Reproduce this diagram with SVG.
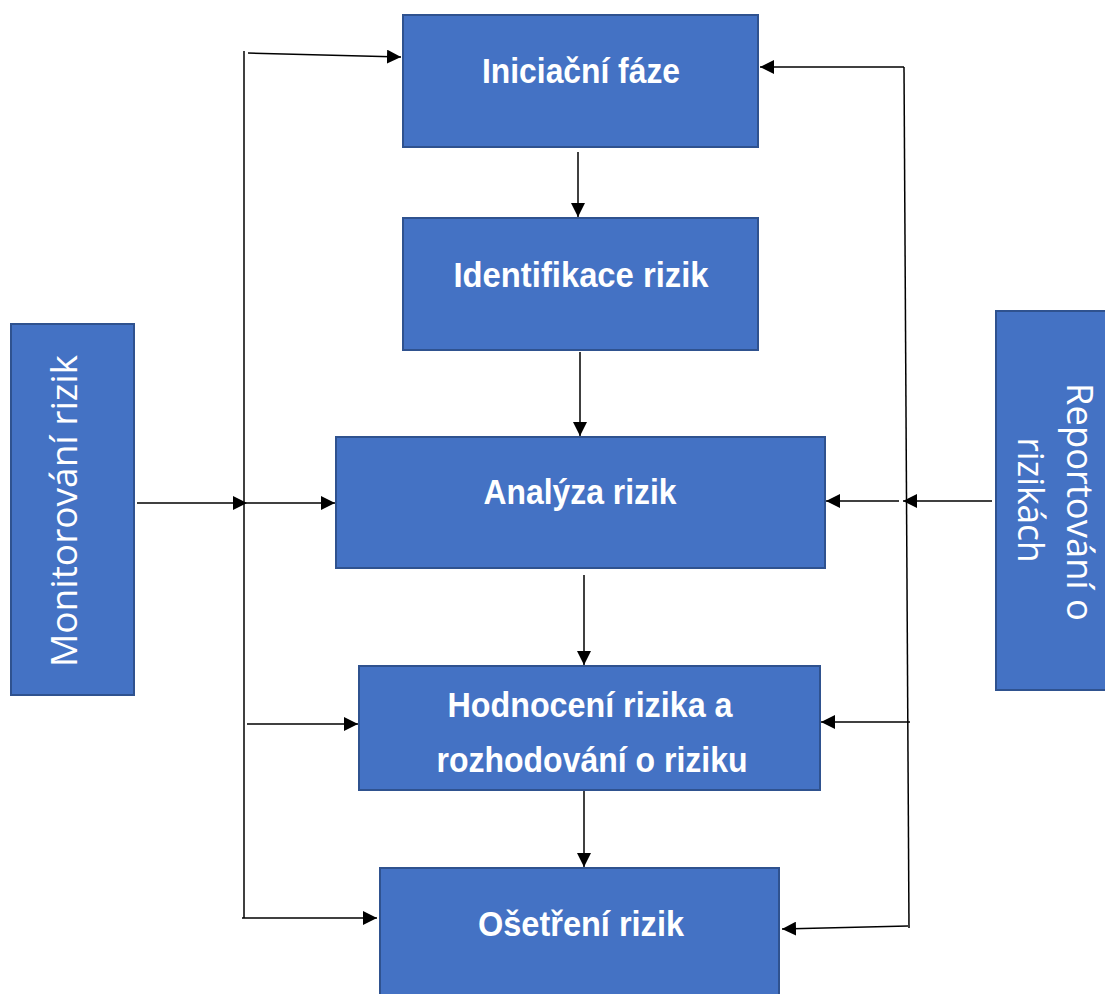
<svg xmlns="http://www.w3.org/2000/svg" width="1105" height="994" viewBox="0 0 1105 994">
  <style>
    .box { fill: #4472C4; stroke: #2F528F; stroke-width: 2; }
    .lbl { font-family: "Liberation Sans", Arial, sans-serif; font-weight: bold; font-size: 35px; fill: #ffffff; text-anchor: middle; }
    .side { font-family: "Open Sans", "Liberation Sans", sans-serif; font-size: 36px; fill: #ffffff; text-anchor: middle; }
    .con { stroke: #000000; stroke-width: 1.5; fill: none; }
    .arr { marker-end: url(#ah); }
  </style>
  <defs>
    <marker id="ah" markerWidth="14" markerHeight="14" refX="14" refY="7" orient="auto" markerUnits="userSpaceOnUse">
      <path d="M0,0 L14,7 L0,14 z" fill="#000000"/>
    </marker>
  </defs>
  <rect width="1105" height="994" fill="#ffffff"/>

  <g id="connectors">
    <line class="con" x1="244" y1="51" x2="244" y2="918"/>
    <line class="con arr" x1="248" y1="53" x2="401" y2="57"/>
    <line class="con arr" x1="137" y1="503" x2="247" y2="503"/>
    <line class="con arr" x1="247" y1="503" x2="335" y2="503"/>
    <line class="con arr" x1="247" y1="724" x2="358" y2="724"/>
    <line class="con arr" x1="242" y1="918" x2="377" y2="918"/>
    <line class="con" x1="904" y1="67" x2="909" y2="928"/>
    <line class="con arr" x1="904" y1="67" x2="760" y2="67"/>
    <line class="con arr" x1="992" y1="501" x2="903" y2="501"/>
    <line class="con arr" x1="899" y1="501" x2="826" y2="501"/>
    <line class="con arr" x1="910" y1="722" x2="821" y2="722"/>
    <line class="con arr" x1="908" y1="926" x2="782" y2="929"/>
    <line class="con arr" x1="578" y1="152" x2="578" y2="217"/>
    <line class="con arr" x1="580" y1="352" x2="580" y2="436"/>
    <line class="con arr" x1="584" y1="575" x2="584" y2="665"/>
    <line class="con arr" x1="584" y1="791" x2="584" y2="867"/>
  </g>

  <g id="node-iniciacni">
    <rect class="box" x="403" y="15" width="355" height="132"/>
    <text class="lbl" x="581" y="83" textLength="198" lengthAdjust="spacingAndGlyphs">Iniciační fáze</text>
  </g>
  <g id="node-identifikace">
    <rect class="box" x="403" y="218" width="355" height="132"/>
    <text class="lbl" x="581" y="287" textLength="255" lengthAdjust="spacingAndGlyphs">Identifikace rizik</text>
  </g>
  <g id="node-analyza">
    <rect class="box" x="336" y="437" width="489" height="131"/>
    <text class="lbl" x="580" y="504" textLength="193" lengthAdjust="spacingAndGlyphs">Analýza rizik</text>
  </g>
  <g id="node-hodnoceni">
    <rect class="box" x="359" y="666" width="461" height="124"/>
    <text class="lbl" x="590" y="717" textLength="285" lengthAdjust="spacingAndGlyphs">Hodnocení rizika a</text>
    <text class="lbl" x="592" y="772" textLength="311" lengthAdjust="spacingAndGlyphs">rozhodování o riziku</text>
  </g>
  <g id="node-osetreni">
    <rect class="box" x="380" y="868" width="399" height="140"/>
    <text class="lbl" x="581" y="936" textLength="206" lengthAdjust="spacingAndGlyphs">Ošetření rizik</text>
  </g>
  <g id="node-monitorovani">
    <rect class="box" x="11" y="324" width="123" height="371"/>
    <text class="side" transform="translate(77,511) rotate(-90)" x="0" y="0" textLength="312" lengthAdjust="spacingAndGlyphs">Monitorování rizik</text>
  </g>
  <g id="node-reportovani">
    <rect class="box" x="996" y="311" width="120" height="379"/>
    <text class="side" transform="translate(1067,502) rotate(90)" x="0" y="0" textLength="238" lengthAdjust="spacingAndGlyphs">Reportování o</text>
    <text class="side" transform="translate(1018,500) rotate(90)" x="0" y="0" textLength="125" lengthAdjust="spacingAndGlyphs">rizikách</text>
  </g>
</svg>
